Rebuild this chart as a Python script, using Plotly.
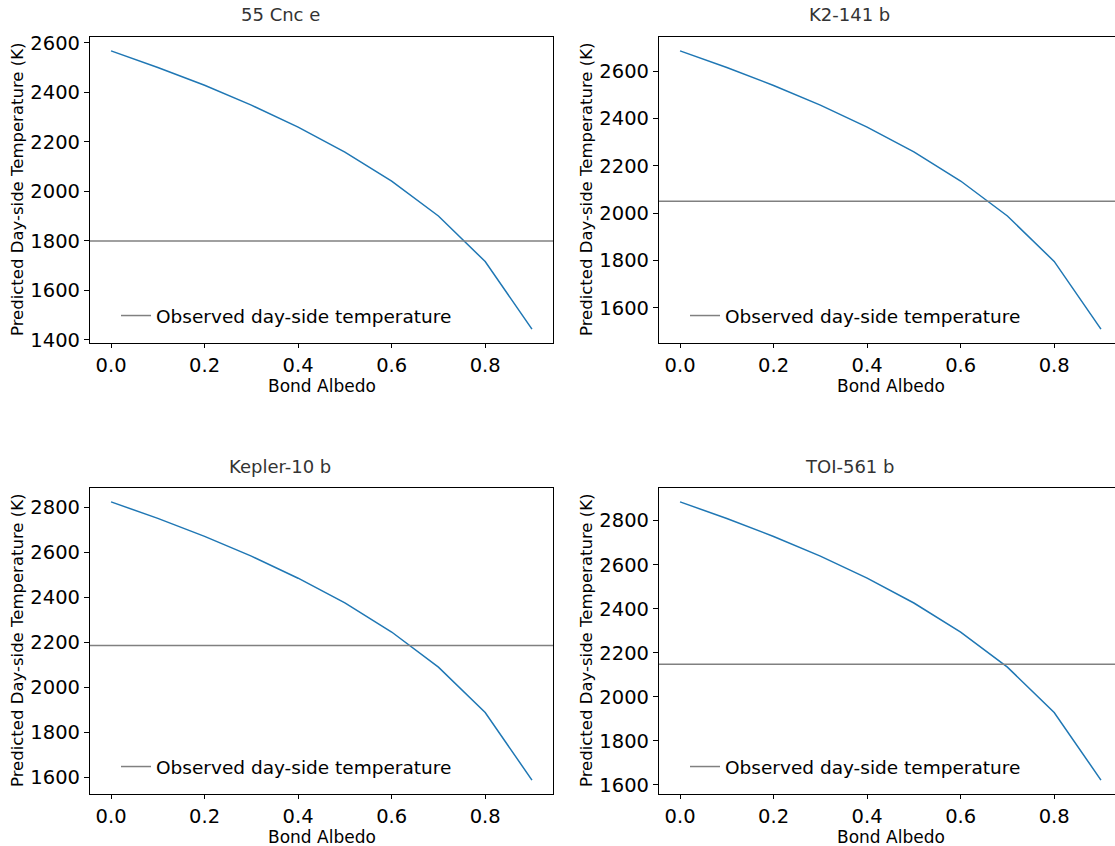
import plotly.graph_objects as go

# ---------------- data ----------------
albedo = [0.0, 0.1, 0.2, 0.3, 0.4, 0.5, 0.6, 0.7, 0.8, 0.9]
planets = ["55 Cnc e", "K2-141 b", "Kepler-10 b", "TOI-561 b"]
temp_55cnce = [2568, 2501, 2429, 2349, 2260, 2159, 2042, 1901, 1717, 1444]
temp_k2141b = [2686, 2616, 2540, 2457, 2364, 2259, 2136, 1988, 1796, 1510]
temp_kepler10b = [2825, 2752, 2672, 2584, 2486, 2376, 2247, 2091, 1889, 1589]
temp_toi561b = [2885, 2810, 2728, 2639, 2539, 2426, 2294, 2135, 1929, 1622]
observed = [1800, 2050, 2187, 2148]
x_ticks = [0.0, 0.2, 0.4, 0.6, 0.8]
legend_label = "Observed day-side temperature"
x_title = "Bond Albedo"
y_title = "Predicted Day-side Temperature (K)"

series = [temp_55cnce, temp_k2141b, temp_kepler10b, temp_toi561b]

# ---------------- layout geometry ----------------
W, H = 1115, 846
FONT = "DejaVu Sans"
col_px = [(90, 553), (659, 1115)]
row_px = [(37, 343), (488, 794)]
full_w = 553 - 90

def margin_range(vals, frac=0.05):
    lo, hi = min(vals), max(vals)
    pad = (hi - lo) * frac
    return lo - pad, hi + pad

fig = go.Figure()

for i, (name, temps, obs) in enumerate(zip(planets, series, observed)):
    r, c = divmod(i, 2)
    ax = "" if i == 0 else str(i + 1)
    xr = list(margin_range(albedo))
    if c == 1:
        vis = (col_px[1][1] - col_px[1][0]) / full_w
        xr[1] = xr[0] + (xr[1] - xr[0]) * vis
    yr = margin_range(temps)
    lg = "legend" if i == 0 else f"legend{i + 1}"

    fig.add_trace(go.Scatter(
        x=albedo, y=temps, mode="lines",
        line=dict(color="#1f77b4", width=1.5),
        xaxis="x" + ax, yaxis="y" + ax, showlegend=False,
    ))
    fig.add_trace(go.Scatter(
        x=[xr[0], xr[1]], y=[obs, obs], mode="lines",
        line=dict(color="#808080", width=1.5),
        name=legend_label, legend=lg,
        xaxis="x" + ax, yaxis="y" + ax, showlegend=True,
    ))

    x0, x1 = col_px[c]
    y0, y1 = row_px[r]
    xdom = [x0 / W, min(x1 / W, 1.0)]
    ydom = [1 - y1 / H, 1 - y0 / H]

    fig.layout["xaxis" + ax] = dict(
        domain=xdom, range=xr, anchor="y" + ax, automargin=False,
        tickvals=x_ticks, tickformat=".1f",
        showgrid=False, zeroline=False,
        showline=True, linecolor="black", linewidth=1.2, mirror=True,
        ticks="outside", ticklen=4, tickwidth=1.2, tickcolor="black",
        tickfont=dict(family=FONT, size=19.5, color="black"),
    )
    fig.layout["yaxis" + ax] = dict(
        domain=ydom, range=list(yr), anchor="x" + ax, automargin=False,
        dtick=200, tick0=0,
        showgrid=False, zeroline=False,
        showline=True, linecolor="black", linewidth=1.2,
        mirror=(c == 0),
        ticks="outside", ticklen=5, tickwidth=1.2, tickcolor="black",
        tickfont=dict(family=FONT, size=19.5, color="black"),
    )
    fig.layout[lg] = dict(
        x=(x0 + 26) / W, y=1 - (y1 - 27) / H,
        xanchor="left", yanchor="middle",
        bgcolor="rgba(0,0,0,0)", borderwidth=0,
        font=dict(family=FONT, size=18.5, color="black"),
    )
    # subplot title
    fig.add_annotation(
        text=name, xref="paper", yref="paper",
        x=(x0 + 190) / W,
        y=1 - (y0 - 22) / H,
        showarrow=False, xanchor="center", yanchor="middle",
        font=dict(family=FONT, size=18, color="#333333"),
    )
    # x-axis title
    fig.add_annotation(
        text=x_title, xref="paper", yref="paper",
        x=(x0 + full_w / 2) / W,
        y=1 - (y1 + 43) / H,
        showarrow=False, xanchor="center", yanchor="middle",
        font=dict(family=FONT, size=17, color="black"),
    )
    # y-axis title
    fig.add_annotation(
        text=y_title, xref="paper", yref="paper",
        x=(x0 - 73) / W,
        y=1 - ((y0 + y1) / 2) / H,
        textangle=-90,
        showarrow=False, xanchor="center", yanchor="middle",
        font=dict(family=FONT, size=16.5, color="black"),
    )

fig.update_layout(
    width=W, height=H,
    margin=dict(l=0, r=0, t=0, b=0, autoexpand=False),
    paper_bgcolor="white", plot_bgcolor="white",
    font=dict(family=FONT),
)

fig.write_html("out.html")
